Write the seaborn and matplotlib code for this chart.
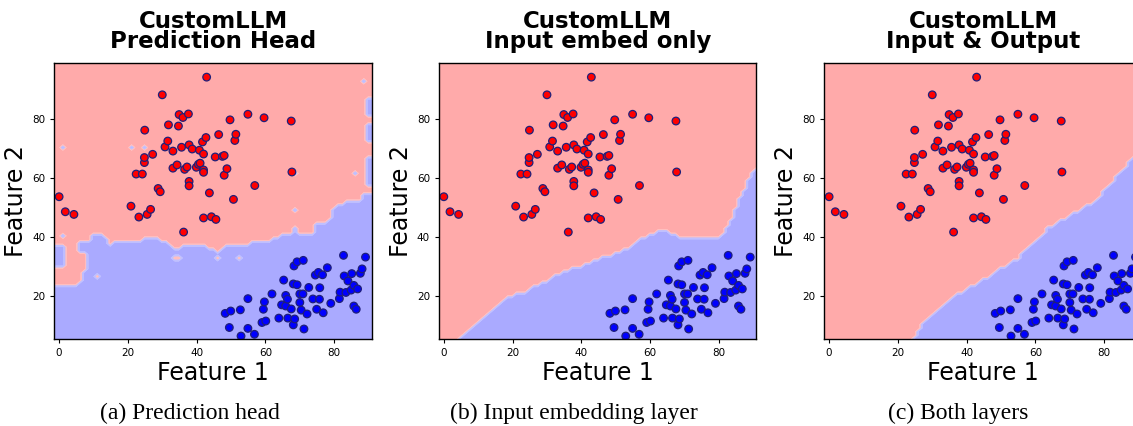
import numpy as np
import pandas as pd
import seaborn as sns
import matplotlib.pyplot as plt
from matplotlib.colors import ListedColormap

# class 0 (red cluster, upper left)
red_x = [0.0, 1.8, 4.3, 20.9, 23.2, 25.6, 26.6, 22.4, 24.2, 24.8, 24.8, 24.9, 27.2,
         28.8, 29.4, 30.0, 30.8, 31.6, 31.8, 33.1, 33.1, 34.3, 34.7, 34.9, 36.0, 35.6,
         36.2, 36.5, 37.2, 37.6, 37.8, 37.8, 37.8, 38.7, 39.9, 40.5, 41.0, 40.8, 41.7,
         42.0, 42.0, 42.0, 42.0, 42.7, 42.9, 43.7, 44.3, 45.6, 45.4, 46.4, 47.5, 48.0,
         48.0, 48.8, 49.7, 50.7, 51.1, 51.4, 54.9, 56.9, 59.6, 67.5, 67.7]
red_y = [53.7, 48.6, 47.7, 50.5, 46.8, 47.7, 49.4, 61.4, 61.4, 65.3, 67.0, 76.3, 68.1,
         56.5, 55.4, 88.3, 70.6, 72.6, 78.1, 69.2, 63.4, 64.5, 77.7, 81.6, 80.6, 70.5,
         41.7, 63.0, 63.8, 81.8, 71.3, 58.9, 57.4, 69.9, 63.7, 64.7, 65.1, 69.5, 72.3,
         68.2, 62.8, 62.0, 46.5, 73.8, 94.3, 55.0, 46.9, 46.0, 67.2, 74.8, 67.4, 67.7,
         61.0, 63.2, 79.8, 52.8, 72.8, 74.9, 81.7, 57.5, 80.5, 79.4, 62.1]

# class 1 (blue cluster, lower right)
blue_x = [48.3, 49.9, 49.5, 52.7, 52.9, 54.9, 54.9, 56.8, 59.0, 60.1, 59.4, 59.7, 61.9,
          63.9, 64.7, 65.3, 65.9, 65.9, 66.4, 66.5, 67.5, 68.1, 68.5, 68.1, 68.3, 69.2,
          69.2, 70.0, 70.0, 70.4, 70.9, 71.0, 71.2, 72.1, 72.6, 73.8, 74.5, 74.9, 75.4,
          75.7, 75.8, 76.6, 76.8, 78.0, 79.0, 81.5, 81.7, 82.7, 82.9, 83.4, 84.0, 85.1,
          84.9, 85.7, 85.7, 86.4, 86.8, 87.6, 88.1, 89.1]
blue_y = [14.1, 14.9, 9.3, 15.3, 6.4, 19.1, 9.0, 7.0, 11.0, 11.5, 15.5, 18.0, 20.7,
          12.5, 17.0, 25.4, 20.2, 16.6, 18.9, 12.5, 15.6, 10.2, 12.2, 24.1, 30.2, 31.6,
          23.8, 20.7, 17.8, 15.2, 20.7, 32.1, 8.8, 13.9, 22.9, 19.0, 27.1, 15.5, 28.0,
          18.9, 22.8, 27.2, 14.3, 29.6, 17.5, 19.1, 21.3, 33.8, 26.8, 21.2, 25.1, 27.6,
          22.0, 23.6, 16.6, 15.5, 22.4, 27.7, 29.2, 33.2]

titles = ["CustomLLM\nPrediction Head", "CustomLLM\nInput embed only", "CustomLLM\nInput & Output"]
captions = ["(a) Prediction head", "(b) Input embedding layer", "(c) Both layers"]

# decision boundary of each model (blue below the line)
bound_a_x = [-2, 5.5, 7.5, 9.5, 13, 14.5, 16.5, 24.5, 26.5, 31, 34, 37, 41, 46, 48.5, 53,
             57, 60.5, 67, 68, 69, 70, 74, 75, 78.5, 79.5, 84, 88, 88.5, 93]
bound_a_y = [23.8, 23.8, 28.5, 40.5, 40.5, 37.3, 39, 39, 40.7, 38.5, 36, 37, 37.3, 35.2,
             37.3, 37.3, 38.5, 38.5, 41.8, 40.7, 44.5, 40.7, 40.7, 45.2, 45.2, 49.8, 52,
             52, 55.4, 55.4]
bound_b_x = [-2, 4.2, 17.7, 24.1, 33.8, 43.5, 51.2, 59, 63.8, 68.7, 80.3, 83.2, 86.6, 88.6, 91, 93]
bound_b_y = [-1, 5.4, 19.2, 21.8, 27.7, 32, 34.8, 40.7, 42.4, 40.2, 40.2, 45.2, 54.3, 59.9, 63.4, 66]
bound_c_x = [-2, 22, 24.4, 26.5, 35.6, 45.3, 54.9, 63.6, 70.3, 77.1, 85.8, 88.6, 93]
bound_c_y = [-10, 0, 5.4, 10, 19.2, 26, 32.8, 43, 47.5, 52, 63.4, 67.3, 72]

# irregular bits of panel (a): rectangles (x0, x1, y0, y1, class) and single cells
rects_a = [(-1.4, 1.2, 29.5, 37.5, 1), (5, 10, 35, 39, 1), (89, 92, 57, 67, 1),
           (89, 92, 72, 78, 1), (89, 92, 81, 87, 1), (79, 81, 43, 48, 1)]
cells_a = [(0.6, 40.4, 1), (0.6, 70.4, 1), (21.6, 70.4, 1), (24.6, 70.4, 1),
           (68.6, 61.4, 1), (68.6, 49.4, 1), (85.6, 61.4, 1), (88.6, 92.4, 1),
           (10.6, 26.4, 0), (33.6, 32.4, 0), (34.6, 32.4, 0), (45.6, 32.4, 0), (52.6, 32.4, 0)]

h = 1.25
gx = np.arange(-1.4, 92.0, h)
gy = np.arange(5.4, 100.0, h)
xx, yy = np.meshgrid(gx, gy)


def region(bx, by, rects=(), cells=()):
    z = (yy < np.interp(xx, bx, by)).astype(float)
    for x0, x1, y0, y1, c in rects:
        z[(xx >= x0) & (xx <= x1) & (yy >= y0) & (yy <= y1)] = c
    for cx, cy, c in cells:
        z[np.abs(gy - cy).argmin(), np.abs(gx - cx).argmin()] = c
    return z


zs = [region(bound_a_x, bound_a_y, rects_a, cells_a),
      region(bound_b_x, bound_b_y),
      region(bound_c_x, bound_c_y)]

pts = pd.DataFrame({
    "f1": red_x + blue_x,
    "f2": red_y + blue_y,
    "cls": [0] * len(red_x) + [1] * len(blue_x),
})

sns.set_style("ticks")
plt.rcParams["font.family"] = ["DejaVu Sans"]
for key in ["text.color", "axes.labelcolor", "xtick.color", "ytick.color"]:
    plt.rcParams[key] = "black"

W, H = 1133, 426
fig = plt.figure(figsize=(W / 100, H / 100), dpi=100)
cmap_light = ListedColormap(["#FFAAAA", "#AAAAFF"])
lefts = [54.3, 439.0, 824.3]
cap_x = [190, 574, 958]

for i in range(3):
    ax = fig.add_axes([lefts[i] / W, (H - 339) / H, 317.4 / W, 275.7 / H])
    ax.contourf(xx, yy, zs[i], cmap=cmap_light, antialiased=True)
    sns.scatterplot(data=pts, x="f1", y="f2", hue="cls",
                    palette={0: "#FF0000", 1: "#0000FF"},
                    edgecolor="#1f1f7a", linewidth=0.9, s=30, legend=False, ax=ax)
    ax.set_xlim(-1.4, 90.9)
    ax.set_ylim(5.4, 99)
    ax.set_xticks([0, 20, 40, 60, 80])
    ax.set_yticks([20, 40, 60, 80])
    ax.tick_params(labelsize=7.5, length=3, width=0.8)
    ax.set_xlabel("Feature 1", fontsize=17, labelpad=2)
    ax.set_ylabel("Feature 2", fontsize=17, labelpad=3)
    ax.set_title(titles[i], fontsize=16.5, fontweight="bold", linespacing=0.84, pad=11)
    for sp in ax.spines.values():
        sp.set_linewidth(1.0)
        sp.set_color("black")
    fig.text(cap_x[i] / W, (H - 419) / H, captions[i], ha="center", va="baseline",
             fontsize=17, family=["Liberation Serif", "DejaVu Serif"])

fig.savefig("out.png", dpi=100)
